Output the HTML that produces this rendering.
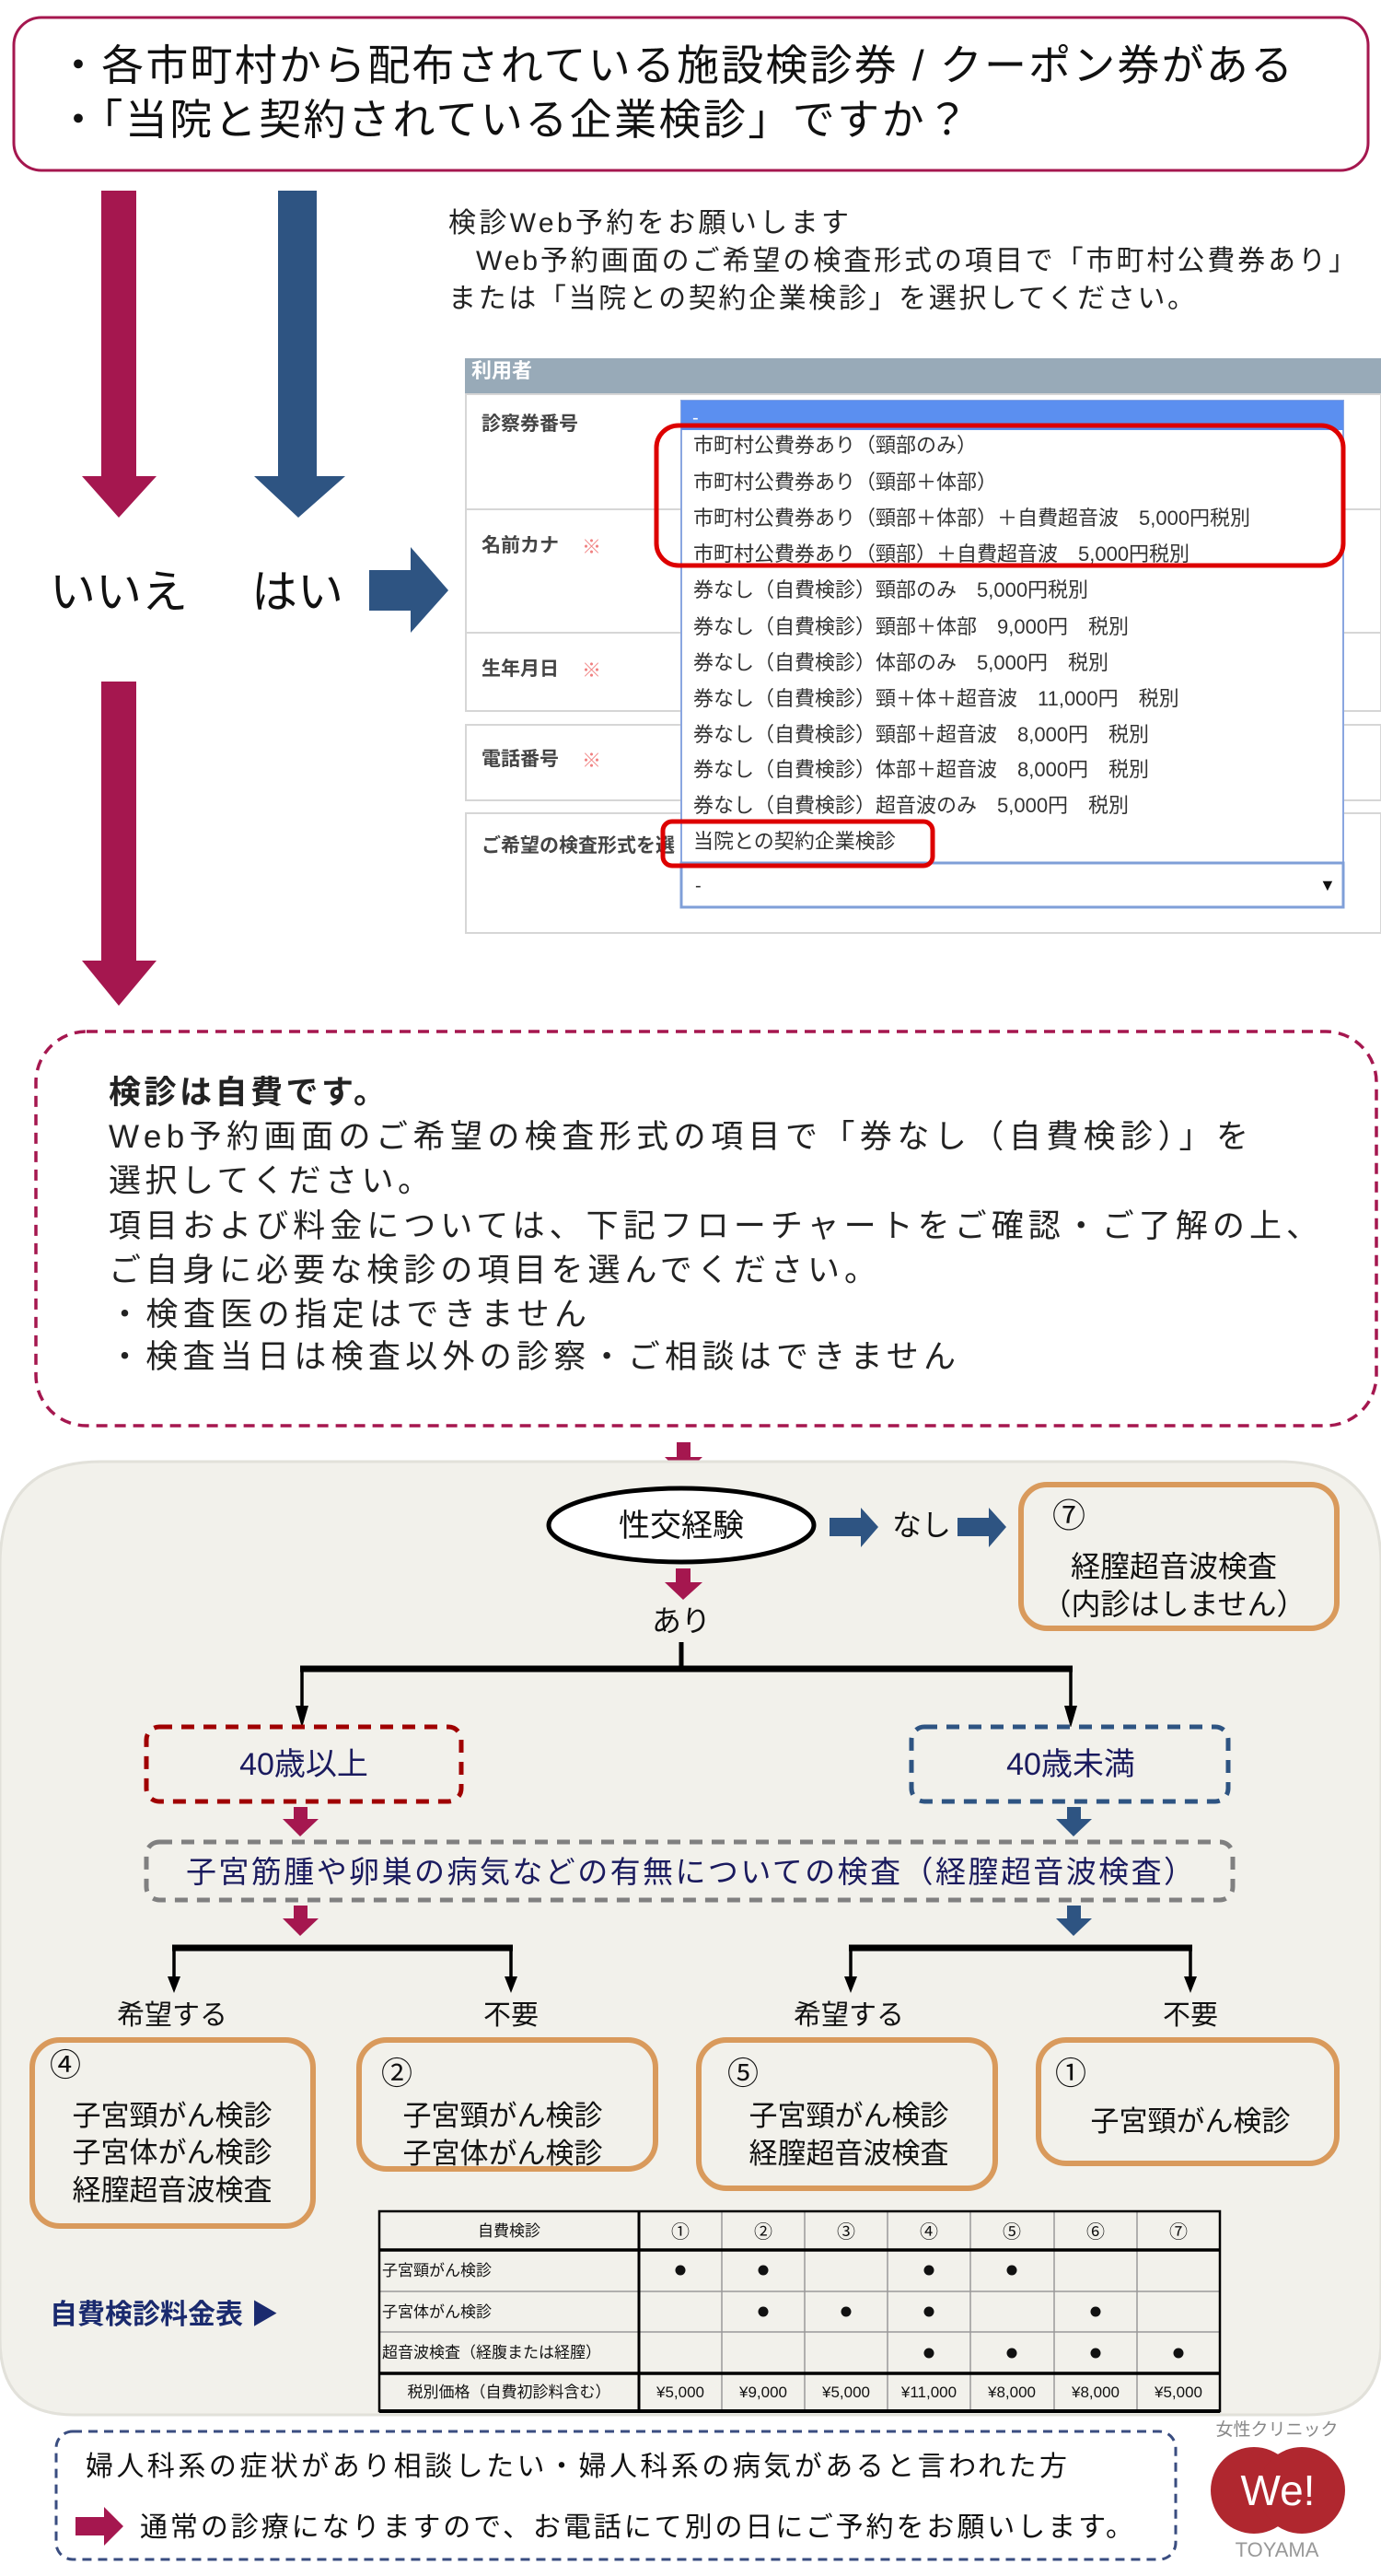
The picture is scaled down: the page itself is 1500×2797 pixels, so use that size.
<!DOCTYPE html>
<html><head><meta charset="utf-8"><style>
html,body{margin:0;padding:0;background:#fff;}
svg{display:block;font-family:"Liberation Sans","Noto Sans CJK JP",sans-serif;}
</style></head><body>
<svg width="1500" height="2797" viewBox="0 0 1500 2797" xmlns="http://www.w3.org/2000/svg">
<!-- top box -->
<rect x="15" y="19" width="1471" height="166" rx="30" fill="#fff" stroke="#a5174f" stroke-width="3"/>
<text x="62" y="87" font-size="46" fill="#111" textLength="1342" lengthAdjust="spacing">・各市町村から配布されている施設検診券 / クーポン券がある</text>
<text x="62" y="146" font-size="46" fill="#111" textLength="990" lengthAdjust="spacing">・「当院と契約されている企業検診」ですか？</text>

<!-- big arrows -->
<polygon points="110,207 148,207 148,517 170,517 129,562 89,517 110,517" fill="#a5174f"/>
<polygon points="302,207 344,207 344,517 375,517 324,562 276,517 302,517" fill="#2e5482"/>
<polygon points="110,740 148,740 148,1043 170,1043 129,1092 89,1043 110,1043" fill="#a5174f"/>
<polygon points="401,619 446,619 446,594 487,641 446,687 446,663 401,663" fill="#2e5482"/>
<text x="54" y="660" font-size="50" fill="#111">いいえ</text>
<text x="273" y="660" font-size="50" fill="#111">はい</text>

<!-- instruction text -->
<text x="487" y="252" font-size="30" fill="#222" textLength="435" lengthAdjust="spacing">検診Web予約をお願いします</text>
<text x="517" y="293" font-size="30" fill="#222" textLength="956" lengthAdjust="spacing">Web予約画面のご希望の検査形式の項目で「市町村公費券あり」</text>
<text x="487" y="334" font-size="30" fill="#222" textLength="811" lengthAdjust="spacing">または「当院との契約企業検診」を選択してください。</text>

<!-- form screenshot -->
<rect x="505" y="389" width="995" height="39" fill="#98aab8"/>
<text x="512" y="410" font-size="22" fill="#fff" font-weight="bold">利用者</text>
<g fill="none" stroke="#d6d6d6" stroke-width="2">
<rect x="506" y="428" width="994" height="125"/>
<rect x="506" y="553" width="994" height="134"/>
<rect x="506" y="687" width="994" height="85"/>
<rect x="506" y="787" width="994" height="82"/>
<rect x="506" y="883" width="994" height="130"/>
</g>
<g font-size="21" fill="#444" font-weight="bold">
<text x="523" y="467">診察券番号</text>
<text x="523" y="599">名前カナ</text><text x="632" y="601" fill="#f08080" font-weight="normal">※</text>
<text x="523" y="733">生年月日</text><text x="632" y="735" fill="#f08080" font-weight="normal">※</text>
<text x="523" y="831">電話番号</text><text x="632" y="833" fill="#f08080" font-weight="normal">※</text>
<text x="523" y="925">ご希望の検査形式を選</text>
</g>
<rect x="740" y="435" width="719" height="502" fill="#fff" stroke="#8aa6e0" stroke-width="2"/>
<rect x="740" y="435" width="719" height="32" fill="#5b8ff0"/>
<text x="752" y="460" font-size="20" fill="#fff">-</text>
<g font-size="22" fill="#333">
<text x="753" y="491">市町村公費券あり（頸部のみ）</text>
<text x="753" y="531">市町村公費券あり（頸部＋体部）</text>
<text x="753" y="570">市町村公費券あり（頸部＋体部）＋自費超音波　5,000円税別</text>
<text x="753" y="609">市町村公費券あり（頸部）＋自費超音波　5,000円税別</text>
<text x="753" y="648">券なし（自費検診）頸部のみ　5,000円税別</text>
<text x="753" y="688">券なし（自費検診）頸部＋体部　9,000円　税別</text>
<text x="753" y="727">券なし（自費検診）体部のみ　5,000円　税別</text>
<text x="753" y="766">券なし（自費検診）頸＋体＋超音波　11,000円　税別</text>
<text x="753" y="805">券なし（自費検診）頸部＋超音波　8,000円　税別</text>
<text x="753" y="843">券なし（自費検診）体部＋超音波　8,000円　税別</text>
<text x="753" y="882">券なし（自費検診）超音波のみ　5,000円　税別</text>
<text x="753" y="921">当院との契約企業検診</text>
</g>
<rect x="740" y="937" width="719" height="48" fill="#fff" stroke="#7f9fd8" stroke-width="3"/>
<text x="755" y="968" font-size="20" fill="#333">-</text>
<text x="1433" y="967" font-size="18" fill="#111">▼</text>
<rect x="713" y="462" width="746" height="152" rx="24" fill="none" stroke="#dd0000" stroke-width="5"/>
<rect x="720" y="892" width="293" height="48" rx="10" fill="none" stroke="#dd0000" stroke-width="5"/>

<!-- self-pay dashed box -->
<rect x="39" y="1120" width="1456" height="428" rx="55" fill="#fff" stroke="#a5174f" stroke-width="3.5" stroke-dasharray="12,8"/>
<g font-size="35" fill="#222">
<text x="118" y="1198" font-weight="bold" textLength="301" lengthAdjust="spacing">検診は自費です。</text>
<text x="118" y="1246" textLength="1238" lengthAdjust="spacing">Web予約画面のご希望の検査形式の項目で「券なし（自費検診）」を</text>
<text x="118" y="1294" textLength="349" lengthAdjust="spacing">選択してください。</text>
<text x="118" y="1343" textLength="1314" lengthAdjust="spacing">項目および料金については、下記フローチャートをご確認・ご了解の上、</text>
<text x="118" y="1391" textLength="834" lengthAdjust="spacing">ご自身に必要な検診の項目を選んでください。</text>
<text x="118" y="1439" textLength="519" lengthAdjust="spacing">・検査医の指定はできません</text>
<text x="118" y="1485" textLength="920" lengthAdjust="spacing">・検査当日は検査以外の診察・ご相談はできません</text>
</g>

<!-- small arrow into panel -->
<polygon points="735,1566 750,1566 750,1582 763,1582 742,1602 722,1582 735,1582" fill="#a5174f"/>

<!-- panel -->
<path d="M0,1700 Q0,1587 110,1587 L1390,1587 Q1500,1587 1500,1700 L1500,2540 Q1500,2622 1420,2622 L80,2622 Q0,2622 0,2540 Z" fill="#f2f1eb" stroke="#e2e1da" stroke-width="3"/>

<ellipse cx="740" cy="1656" rx="144" ry="40" fill="#fff" stroke="#000" stroke-width="5"/>
<text x="740" y="1668" font-size="34" text-anchor="middle" fill="#111">性交経験</text>
<polygon points="901,1648 935,1648 935,1637 954,1658 935,1680 935,1668 901,1668" fill="#2e5482"/>
<text x="1001" y="1667" font-size="32" text-anchor="middle" fill="#111">なし</text>
<polygon points="1040,1648 1074,1648 1074,1637 1093,1658 1074,1680 1074,1668 1040,1668" fill="#2e5482"/>
<rect x="1109" y="1612" width="343" height="156" rx="28" fill="#f2f1eb" stroke="#d99a5c" stroke-width="6"/>
<text x="1143" y="1658" font-size="36" fill="#111">⑦</text>
<text x="1275" y="1712" font-size="32" text-anchor="middle" fill="#111">経膣超音波検査</text>
<text x="1275" y="1753" font-size="32" text-anchor="middle" fill="#111">（内診はしません）</text>

<polygon points="734,1703 750,1703 750,1718 763,1718 742,1737 722,1718 734,1718" fill="#a5174f"/>
<text x="740" y="1771" font-size="32" text-anchor="middle" fill="#111">あり</text>

<!-- tree 1 -->
<g stroke="#000" fill="none">
<line x1="740" y1="1783" x2="740" y2="1812" stroke-width="5"/>
<line x1="326" y1="1812" x2="1165" y2="1812" stroke-width="7"/>
<line x1="328" y1="1812" x2="328" y2="1856" stroke-width="3.5"/>
<line x1="1163" y1="1812" x2="1163" y2="1856" stroke-width="3.5"/>
</g>
<polygon points="321,1852 335,1852 328,1876" fill="#000"/>
<polygon points="1156,1852 1170,1852 1163,1876" fill="#000"/>

<rect x="159" y="1875" width="342" height="81" rx="14" fill="#f2f1eb" stroke="#a00000" stroke-width="5" stroke-dasharray="14,10"/>
<text x="330" y="1927" font-size="34" text-anchor="middle" fill="#1a1a5e">40歳以上</text>
<rect x="990" y="1875" width="344" height="81" rx="14" fill="#f2f1eb" stroke="#2e5482" stroke-width="5" stroke-dasharray="14,10"/>
<text x="1163" y="1927" font-size="34" text-anchor="middle" fill="#1a1a5e">40歳未満</text>

<polygon points="319,1962 334,1962 334,1975 346,1975 326,1994 307,1975 319,1975" fill="#a5174f"/>
<polygon points="1159,1962 1174,1962 1174,1975 1186,1975 1166,1994 1147,1975 1159,1975" fill="#2e5482"/>

<rect x="159" y="2000" width="1180" height="63" rx="14" fill="#f2f1eb" stroke="#808080" stroke-width="5" stroke-dasharray="14,10"/>
<text x="202" y="2044" font-size="33" fill="#1a1a5e" textLength="1095" lengthAdjust="spacing">子宮筋腫や卵巣の病気などの有無についての検査（経膣超音波検査）</text>

<polygon points="319,2069 334,2069 334,2083 346,2083 326,2102 307,2083 319,2083" fill="#a5174f"/>
<polygon points="1159,2069 1174,2069 1174,2083 1186,2083 1166,2102 1147,2083 1159,2083" fill="#2e5482"/>

<!-- trees 2 -->
<g stroke="#000" fill="none">
<line x1="187" y1="2115" x2="557" y2="2115" stroke-width="7"/>
<line x1="189" y1="2115" x2="189" y2="2150" stroke-width="3.5"/>
<line x1="555" y1="2115" x2="555" y2="2150" stroke-width="3.5"/>
<line x1="922" y1="2115" x2="1295" y2="2115" stroke-width="7"/>
<line x1="924" y1="2115" x2="924" y2="2150" stroke-width="3.5"/>
<line x1="1293" y1="2115" x2="1293" y2="2150" stroke-width="3.5"/>
</g>
<polygon points="182,2146 196,2146 189,2164" fill="#000"/>
<polygon points="548,2146 562,2146 555,2164" fill="#000"/>
<polygon points="917,2146 931,2146 924,2164" fill="#000"/>
<polygon points="1286,2146 1300,2146 1293,2164" fill="#000"/>
<g font-size="30" text-anchor="middle" fill="#111">
<text x="187" y="2198">希望する</text>
<text x="555" y="2198">不要</text>
<text x="922" y="2198">希望する</text>
<text x="1293" y="2198">不要</text>
</g>

<!-- result boxes -->
<g fill="#f2f1eb" stroke="#d99a5c" stroke-width="6">
<rect x="35" y="2215" width="305" height="202" rx="30"/>
<rect x="390" y="2215" width="322" height="140" rx="30"/>
<rect x="759" y="2215" width="322" height="161" rx="30"/>
<rect x="1128" y="2215" width="324" height="134" rx="30"/>
</g>
<g font-size="34" fill="#111">
<text x="54" y="2254">④</text>
<text x="414" y="2263">②</text>
<text x="790" y="2263">⑤</text>
<text x="1146" y="2263">①</text>
</g>
<g font-size="31" fill="#111" text-anchor="middle">
<text x="187" y="2308">子宮頸がん検診</text>
<text x="187" y="2348">子宮体がん検診</text>
<text x="187" y="2389">経膣超音波検査</text>
<text x="546" y="2308">子宮頸がん検診</text>
<text x="546" y="2349">子宮体がん検診</text>
<text x="922" y="2308">子宮頸がん検診</text>
<text x="922" y="2349">経膣超音波検査</text>
<text x="1293" y="2314">子宮頸がん検診</text>
</g>

<!-- fee table label -->
<text x="54" y="2523" font-size="30" font-weight="bold" fill="#1a2a6e">自費検診料金表 ▶</text>

<!-- table -->
<rect x="412" y="2401" width="913" height="217" fill="#f2f1eb"/>
<g stroke="#999" stroke-width="1.5">
<line x1="784" y1="2401" x2="784" y2="2618"/><line x1="874" y1="2401" x2="874" y2="2618"/>
<line x1="964" y1="2401" x2="964" y2="2618"/><line x1="1054" y1="2401" x2="1054" y2="2618"/>
<line x1="1145" y1="2401" x2="1145" y2="2618"/><line x1="1235" y1="2401" x2="1235" y2="2618"/>
<line x1="412" y1="2488" x2="1325" y2="2488"/><line x1="412" y1="2532" x2="1325" y2="2532"/>
</g>
<g stroke="#000">
<rect x="412" y="2401" width="913" height="217" fill="none" stroke-width="2.5"/>
<line x1="694" y1="2401" x2="694" y2="2618" stroke-width="3"/>
<line x1="412" y1="2443" x2="1325" y2="2443" stroke-width="3.5"/>
<line x1="412" y1="2577" x2="1325" y2="2577" stroke-width="3.5"/>
<line x1="412" y1="2618" x2="1325" y2="2618" stroke-width="4"/>
</g>
<g font-size="17" fill="#111">
<text x="553" y="2428" text-anchor="middle">自費検診</text>
<text x="415" y="2471">子宮頸がん検診</text>
<text x="415" y="2516">子宮体がん検診</text>
<text x="415" y="2560">超音波検査（経腹または経膣）</text>
<text x="553" y="2603" text-anchor="middle">税別価格（自費初診料含む）</text>
</g>
<g font-size="20" fill="#111" text-anchor="middle">
<text x="739" y="2430">①</text><text x="829" y="2430">②</text><text x="919" y="2430">③</text><text x="1009" y="2430">④</text><text x="1099" y="2430">⑤</text><text x="1190" y="2430">⑥</text><text x="1280" y="2430">⑦</text>
</g>
<g fill="#111">
<circle cx="739" cy="2465" r="5.5"/><circle cx="829" cy="2465" r="5.5"/><circle cx="1009" cy="2465" r="5.5"/><circle cx="1099" cy="2465" r="5.5"/>
<circle cx="829" cy="2510" r="5.5"/><circle cx="919" cy="2510" r="5.5"/><circle cx="1009" cy="2510" r="5.5"/><circle cx="1190" cy="2510" r="5.5"/>
<circle cx="1009" cy="2555" r="5.5"/><circle cx="1099" cy="2555" r="5.5"/><circle cx="1190" cy="2555" r="5.5"/><circle cx="1280" cy="2555" r="5.5"/>
</g>
<g font-size="17" fill="#111" text-anchor="middle">
<text x="739" y="2603">¥5,000</text><text x="829" y="2603">¥9,000</text><text x="919" y="2603">¥5,000</text><text x="1009" y="2603">¥11,000</text><text x="1099" y="2603">¥8,000</text><text x="1190" y="2603">¥8,000</text><text x="1280" y="2603">¥5,000</text>
</g>

<!-- bottom box -->
<rect x="61" y="2640" width="1216" height="139" rx="18" fill="#fff" stroke="#3a4d80" stroke-width="3" stroke-dasharray="10,7"/>
<text x="93" y="2688" font-size="30" fill="#111" textLength="1066" lengthAdjust="spacing">婦人科系の症状があり相談したい・婦人科系の病気があると言われた方</text>
<polygon points="82,2733 113,2733 113,2722 134,2743 113,2764 113,2753 82,2753" fill="#a5174f"/>
<text x="152" y="2754" font-size="30" fill="#111" textLength="1079" lengthAdjust="spacing">通常の診療になりますので、お電話にて別の日にご予約をお願いします。</text>

<!-- logo -->
<text x="1387" y="2644" font-size="19" fill="#888" text-anchor="middle">女性クリニック</text>
<ellipse cx="1362" cy="2704" rx="47" ry="47" fill="#b0272f"/>
<ellipse cx="1414" cy="2704" rx="47" ry="47" fill="#b0272f"/>
<text x="1388" y="2720" font-size="46" fill="#fff" text-anchor="middle">We!</text>
<text x="1387" y="2776" font-size="22" fill="#999" text-anchor="middle">TOYAMA</text>
</svg>
</body></html>
